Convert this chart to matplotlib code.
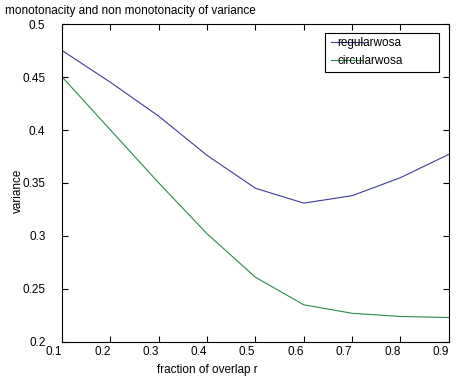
import matplotlib as mpl
mpl.use('Agg')
import matplotlib.pyplot as plt
from matplotlib.patches import Rectangle

overlap = [0.1, 0.2, 0.3, 0.4, 0.5, 0.6, 0.7, 0.8, 0.9]
regular = [0.475, 0.445, 0.413, 0.376, 0.345, 0.331, 0.338, 0.355, 0.377]
circular = [0.450, 0.400, 0.350, 0.302, 0.261, 0.235, 0.227, 0.224, 0.223]
xticks = [0.1, 0.2, 0.3, 0.4, 0.5, 0.6, 0.7, 0.8, 0.9]
yticks = [0.2, 0.25, 0.3, 0.35, 0.4, 0.45, 0.5]

plt.rcParams['font.family'] = ['Liberation Sans', 'DejaVu Sans']

fig = plt.figure(figsize=(4.57, 3.82), dpi=100)
ax = fig.add_axes([0.136, 0.105, 0.846, 0.832])
ax.plot(overlap, regular, color='#3c3c9c', lw=0.8, label='regularwosa')
ax.plot(overlap, circular, color='#2a8a4a', lw=0.8, label='circularwosa')
ax.set_xlim(0.1, 0.9)
ax.set_ylim(0.2, 0.5)
ax.set_xticks(xticks)
ax.set_yticks(yticks)
ax.set_xticklabels(['%g' % t for t in xticks], ha='right')
ax.set_yticklabels(['%g' % t for t in yticks])
ax.tick_params(direction='in', top=True, right=True, labelsize=8.5, length=4, width=0.8)
ax.tick_params(axis='y', pad=12)
ax.tick_params(axis='x', pad=3)
for s in ax.spines.values():
    s.set_linewidth(0.8)
ax.set_xlabel('fraction of overlap r', fontsize=8.5)
ax.xaxis.set_label_coords(0.375, -0.07)
ax.set_ylabel('variance', fontsize=8.5)
ax.yaxis.set_label_coords(-0.099, 0.476)
fig.text(0.011, 0.972, 'monotonacity and non monotonacity of variance', fontsize=8.5, ha='left', va='center')

# legend box like the original
ax.add_patch(Rectangle((0.679, 0.850), 0.297, 0.122, transform=ax.transAxes,
                       fill=True, facecolor='white', edgecolor='black', lw=0.8, zorder=5))
leg = ax.legend(loc='upper left', bbox_to_anchor=(0.672, 0.988), fontsize=8.5,
                handlelength=2.7, handletextpad=-2.2, frameon=False,
                borderpad=0.3, labelspacing=0.45)
leg.set_zorder(6)
fig.savefig('out.png')
